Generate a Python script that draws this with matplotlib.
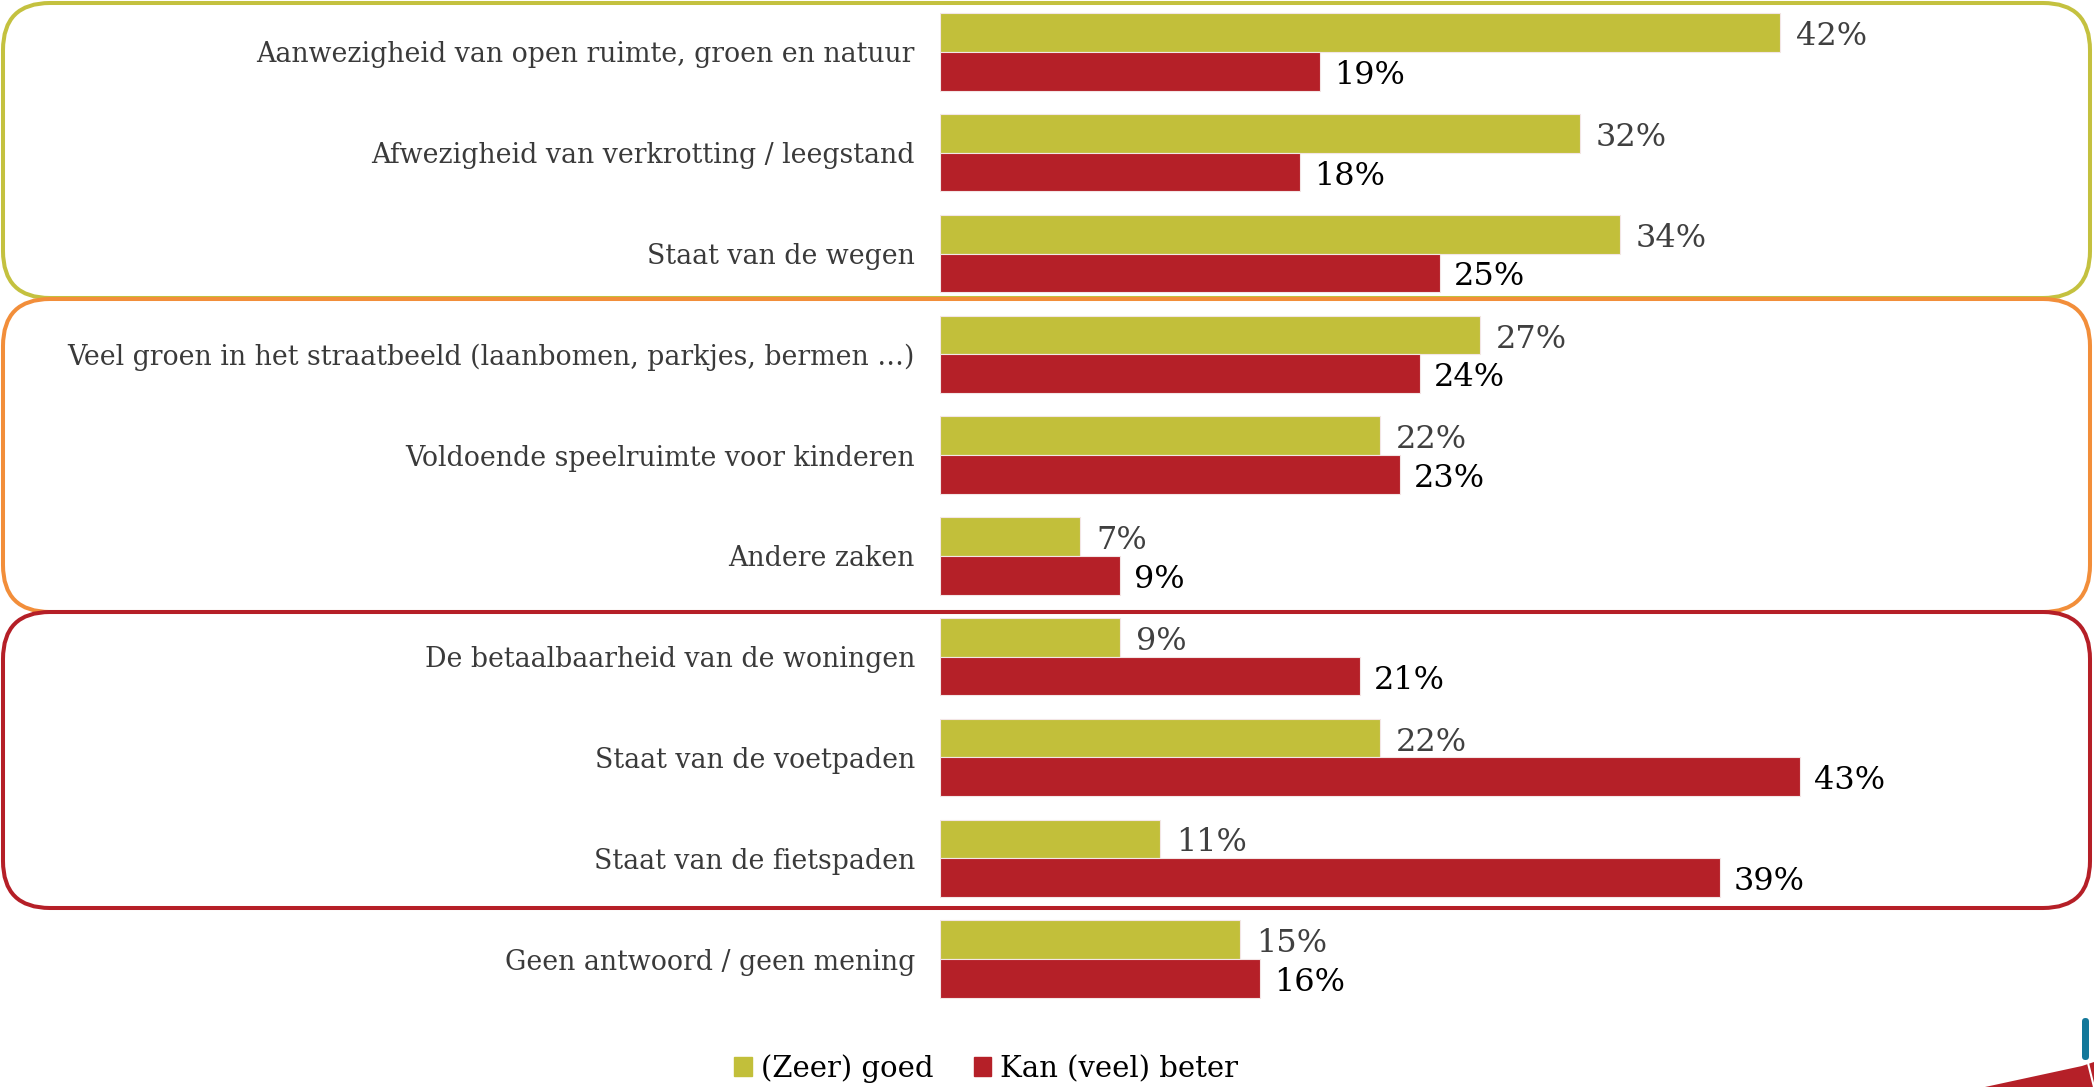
import numpy as np
import matplotlib
matplotlib.use('Agg')
import matplotlib.pyplot as plt
from matplotlib.patches import FancyBboxPatch, Polygon, Patch

categories = [
    "Aanwezigheid van open ruimte, groen en natuur",
    "Afwezigheid van verkrotting / leegstand",
    "Staat van de wegen",
    "Veel groen in het straatbeeld (laanbomen, parkjes, bermen \u2026)",
    "Voldoende speelruimte voor kinderen",
    "Andere zaken",
    "De betaalbaarheid van de woningen",
    "Staat van de voetpaden",
    "Staat van de fietspaden",
    "Geen antwoord / geen mening",
]
goed = [42, 32, 34, 27, 22, 7, 9, 22, 11, 15]
beter = [19, 18, 25, 24, 23, 9, 21, 43, 39, 16]
series_names = ["(Zeer) goed", "Kan (veel) beter"]

c_goed = '#C2BF3A'
c_beter = '#B52028'

def main():
    plt.rcParams['font.family'] = ['DejaVu Serif']
    W, H = 2094, 1087
    fig = plt.figure(figsize=(W/100, H/100), dpi=100)

    ### axes placed in pixel terms of the reference
    x0, y_top, y_bot = 940, 1.6, 1009.4
    ax = fig.add_axes([x0/W, 1-y_bot/H, 1-x0/W, (y_bot-y_top)/H])
    y = np.arange(len(categories))
    bh = 0.384
    props = dict(height=bh, edgecolor='#F3E6E6', linewidth=0.8)
    ax.barh(y-bh/2, goed, color=c_goed, label=series_names[0], **props)
    ax.barh(y+bh/2, beter, color=c_beter, label=series_names[1], **props)

    for i in range(len(categories)):
        ax.text(goed[i]+0.8, y[i]-bh/2+0.04, '{}%'.format(goed[i]), ha='left', va='center',
                fontsize=23, color='#404040')
        ax.text(beter[i]+0.7, y[i]+bh/2+0.04, '{}%'.format(beter[i]), ha='left', va='center',
                fontsize=23, color='black')

    ax.set_xlim(0, (W-x0)/20.)
    ax.set_ylim(len(categories)-0.5, -0.5)
    ax.set_yticks(y)
    ax.set_yticklabels(categories, fontsize=19.3, color='#3A3A3A')
    ax.tick_params(axis='y', length=0, pad=18)
    ax.set_xticks([])
    for s in ax.spines.values():
        s.set_visible(False)

    ### rounded group boxes (pixel coords from top -> inches)
    boxes = [(3, 298, '#C4C13F'), (299, 612, '#F28E3A'), (612, 908, '#B51F27')]
    for top, bot, col in boxes:
        bx = FancyBboxPatch((3/100., (H-bot)/100.), (2090-3)/100., (bot-top)/100.,
                            boxstyle='round,pad=0,rounding_size=0.47',
                            transform=fig.dpi_scale_trans, fill=False,
                            edgecolor=col, linewidth=2.9, clip_on=False)
        fig.add_artist(bx)

    ### legend
    handles = [Patch(color=c_goed), Patch(color=c_beter)]
    fig.legend(handles, series_names, loc='center', bbox_to_anchor=(0.471, 0.017),
               ncol=2, frameon=False, fontsize=21, handlelength=0.6, handleheight=0.6,
               handletextpad=0.3, columnspacing=1.4, borderaxespad=0, borderpad=0)

    ### logo fragment in the corner
    tri = Polygon([(1985/100., 0), (2082/100., (H-1066)/100.), (2094/100., (H-1062)/100.),
                   (2094/100., 0)], closed=True, transform=fig.dpi_scale_trans,
                  facecolor='#B52028', edgecolor='none')
    fig.add_artist(tri)
    fig.add_artist(plt.Line2D([2088/100., 2094/100.], [(H-1063)/100., (H-1087)/100.],
                              transform=fig.dpi_scale_trans, color='white', linewidth=1.5))
    bar = FancyBboxPatch((2082/100., (H-1060)/100.), 7/100., 42/100.,
                         boxstyle='round,pad=0,rounding_size=0.035',
                         transform=fig.dpi_scale_trans, facecolor='#13789A', edgecolor='none')
    fig.add_artist(bar)

    fig.savefig('out.png', dpi=100)

if __name__ == '__main__':
    main()
